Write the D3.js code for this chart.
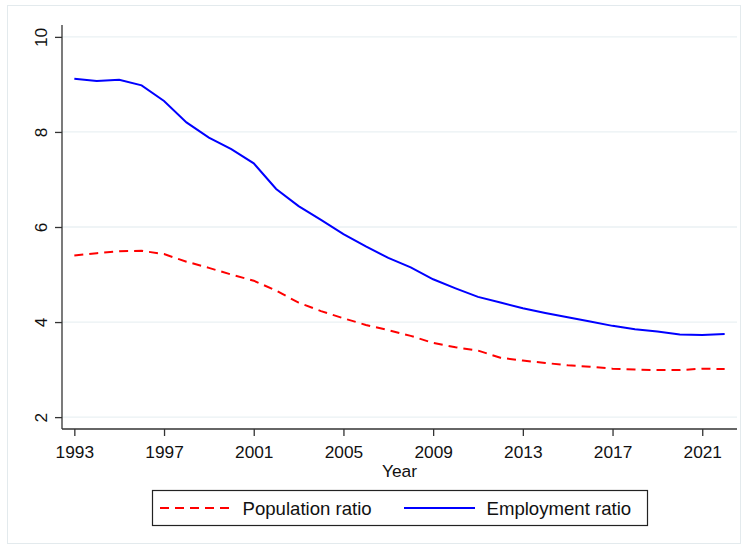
<!DOCTYPE html>
<html>
<head>
<meta charset="utf-8">
<script src="https://cdn.jsdelivr.net/npm/d3@7"></script>
<style>
  html, body { margin: 0; padding: 0; background: #ffffff; }
  svg { display: block; font-family: "Liberation Sans", Arial, sans-serif; }
</style>
</head>
<body>
<svg id="chart" width="746" height="550"></svg>
<script>
// Yearly series, 1993–2022
const years = d3.range(1993, 2023);
const populationRatio = [5.40, 5.45, 5.49, 5.50, 5.43, 5.27, 5.14, 5.00, 4.87, 4.66,
                         4.41, 4.23, 4.08, 3.94, 3.83, 3.71, 3.56, 3.47, 3.40, 3.25,
                         3.19, 3.14, 3.09, 3.06, 3.02, 3.00, 2.99, 2.99, 3.02, 3.01];
const employmentRatio = [9.12, 9.07, 9.10, 8.98, 8.65, 8.20, 7.88, 7.64, 7.34, 6.80,
                         6.44, 6.15, 5.85, 5.59, 5.35, 5.15, 4.90, 4.71, 4.53, 4.41,
                         4.29, 4.19, 4.10, 4.01, 3.92, 3.85, 3.80, 3.74, 3.73, 3.75];
const xTicks = [1993, 1997, 2001, 2005, 2009, 2013, 2017, 2021];
const yTicks = [2, 4, 6, 8, 10];
const seriesNames = ["Population ratio", "Employment ratio"];

const svg = d3.select("#chart");
const plot = { left: 62, right: 737, top: 25, bottom: 429 };

// Outer frame
svg.append("rect")
  .attr("x", 7.5).attr("y", 5.5).attr("width", 733).attr("height", 538)
  .attr("fill", "#ffffff").attr("stroke", "#e3eaed").attr("stroke-width", 1);

const x = d3.scaleLinear().domain([1992.45, 2022.55]).range([plot.left, plot.right]);
const y = d3.scaleLinear().domain([1.75, 10.25]).range([plot.bottom, plot.top]);

// Horizontal gridlines
svg.append("g")
  .selectAll("line")
  .data(yTicks)
  .join("line")
  .attr("x1", plot.left).attr("x2", plot.right)
  .attr("y1", d => y(d)).attr("y2", d => y(d))
  .attr("stroke", "#eaf1f3").attr("stroke-width", 1.3);

// Y axis
const yAxis = svg.append("g")
  .attr("transform", `translate(${plot.left},0)`)
  .call(d3.axisLeft(y).tickValues(yTicks).tickSize(7).tickSizeOuter(0).tickPadding(0).tickFormat(d3.format("d")));
yAxis.select(".domain").attr("stroke", "#333").attr("stroke-width", 1.3)
  .attr("d", `M0,${plot.top}V${plot.bottom}`);
yAxis.selectAll(".tick line").attr("stroke", "#333").attr("stroke-width", 1.3);
yAxis.selectAll(".tick text")
  .attr("transform", "rotate(-90)")
  .attr("x", 0).attr("y", -15)
  .attr("dy", 0)
  .attr("text-anchor", "middle")
  .attr("font-size", 17.3)
  .attr("fill", "#111");

// X axis
const xAxis = svg.append("g")
  .attr("transform", `translate(0,${plot.bottom})`)
  .call(d3.axisBottom(x).tickValues(xTicks).tickSize(7).tickSizeOuter(0).tickPadding(0).tickFormat(d3.format("d")));
xAxis.select(".domain").attr("stroke", "#333").attr("stroke-width", 1.3)
  .attr("d", `M${plot.left},0H${plot.right}`);
xAxis.selectAll(".tick line").attr("stroke", "#333").attr("stroke-width", 1.3);
xAxis.selectAll(".tick text")
  .attr("y", 29).attr("dy", 0)
  .attr("font-size", 17.3)
  .attr("fill", "#111");

svg.append("text")
  .attr("x", (plot.left + plot.right) / 2).attr("y", 477)
  .attr("text-anchor", "middle")
  .attr("font-size", 17.4)
  .attr("fill", "#111")
  .text("Year");

// Lines
const line = vals => d3.line()
  .x((d, i) => x(years[i]))
  .y(d => y(d))(vals);

svg.append("path")
  .attr("d", line(populationRatio))
  .attr("fill", "none").attr("stroke", "#ff0000").attr("stroke-width", 2)
  .attr("stroke-dasharray", "9,6");

svg.append("path")
  .attr("d", line(employmentRatio))
  .attr("fill", "none").attr("stroke", "#0000ff").attr("stroke-width", 2);

// Legend
const legend = svg.append("g");
legend.append("rect")
  .attr("x", 152.5).attr("y", 490.5).attr("width", 495).attr("height", 35)
  .attr("fill", "#ffffff").attr("stroke", "#222").attr("stroke-width", 1.2);

legend.append("line")
  .attr("x1", 160).attr("x2", 231).attr("y1", 508).attr("y2", 508)
  .attr("stroke", "#ff0000").attr("stroke-width", 2).attr("stroke-dasharray", "9,6");
legend.append("text")
  .attr("x", 242.5).attr("y", 514.5)
  .attr("font-size", 18.6).attr("fill", "#111")
  .text(seriesNames[0]);

legend.append("line")
  .attr("x1", 404).attr("x2", 475).attr("y1", 508).attr("y2", 508)
  .attr("stroke", "#0000ff").attr("stroke-width", 2);
legend.append("text")
  .attr("x", 486.5).attr("y", 514.5)
  .attr("font-size", 18.6).attr("fill", "#111")
  .text(seriesNames[1]);
</script>
</body>
</html>
